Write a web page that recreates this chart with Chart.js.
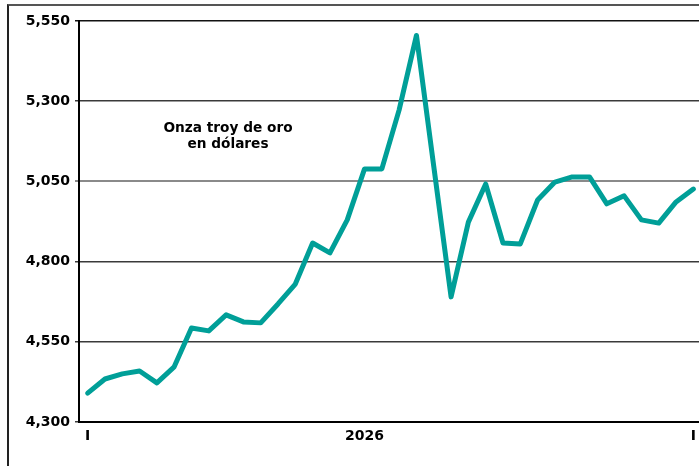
<!DOCTYPE html>
<html>
<head>
<meta charset="utf-8">
<script src="https://cdn.jsdelivr.net/npm/chart.js@4/dist/chart.umd.min.js"></script>
<style>
  html, body { margin: 0; padding: 0; background: #fff; overflow: hidden; }
  #wrap { position: relative; width: 699px; height: 466px; overflow: hidden; }
  #frame { position: absolute; left: 7px; top: 4px; right: 0; bottom: 0;
           border-top: 2px solid #555; border-left: 2px solid #222; }
  #box { position: absolute; left: 0; top: 0; width: 702px; height: 466px; }
</style>
</head>
<body>
<div id="wrap">
  <div id="frame"></div>
  <div id="box"><canvas id="chart"></canvas></div>
</div>
<script>
// ===== DATA =====
const labels = ['I', '', '', '', '', '', '', '', '', '', '', '', '', '', '', '',
  '2026', '', '', '', '', '', '', '', '', '', '', '', '', '', '', '', '', '', '', 'I'];
const goldPrice = [4390, 4434, 4450, 4459, 4422, 4472, 4593, 4584, 4634, 4612, 4609, 4668,
  4730, 4858, 4827, 4930, 5089, 5089, 5273, 5505, 5097, 4690, 4923, 5042,
  4858, 4855, 4992, 5048, 5064, 5064, 4980, 5005, 4930, 4920, 4986, 5026];
const yTicks = [4300, 4550, 4800, 5050, 5300, 5550];
const noteLines = ['Onza troy de oro', 'en dólares'];

const FONT = '"DejaVu Sans", sans-serif';

// grid colour per tick value
function gridColor(value) {
  if (value === 5550) return '#111';
  if (value === 5050) return '#8a8a8a';
  return '#3a3a3a';
}

// note text in the upper left of the plot
const notePlugin = {
  id: 'note',
  afterDraw(chart) {
    const ctx = chart.ctx;
    ctx.save();
    ctx.fillStyle = '#000';
    ctx.font = 'bold 13.7px ' + FONT;
    ctx.textAlign = 'center';
    ctx.textBaseline = 'alphabetic';
    ctx.fillText(noteLines[0], 228, 132);
    ctx.fillText(noteLines[1], 228, 148);
    ctx.restore();
  }
};

new Chart(document.getElementById('chart'), {
  type: 'line',
  data: {
    labels: labels,
    datasets: [{
      data: goldPrice,
      borderColor: '#009F98',
      borderWidth: 5,
      borderJoinStyle: 'round',
      borderCapStyle: 'round',
      pointRadius: 0,
      tension: 0,
      fill: false
    }]
  },
  options: {
    responsive: true,
    maintainAspectRatio: false,
    animation: false,
    layout: { padding: { top: 21, right: 0, bottom: 0, left: 0 } },
    plugins: {
      legend: { display: false },
      tooltip: { enabled: false }
    },
    scales: {
      x: {
        offset: true,
        grid: { display: false, drawTicks: false },
        border: { display: true, color: '#000', width: 2 },
        ticks: {
          autoSkip: false,
          maxRotation: 0,
          padding: 6,
          color: '#000',
          font: { family: FONT, weight: 'bold', size: 14 }
        },
        afterFit(scale) { scale.height = 44; }
      },
      y: {
        min: 4300,
        max: 5550,
        afterBuildTicks(scale) { scale.ticks = yTicks.map(v => ({ value: v })); },
        grid: {
          color: ctx => gridColor(ctx.tick ? ctx.tick.value : 0),
          lineWidth: ctx => (ctx.tick && ctx.tick.value === 5050) ? 2 : 1.5,
          tickLength: 4
        },
        border: { display: true, color: '#000', width: 2 },
        ticks: {
          padding: 5,
          color: '#000',
          font: { family: FONT, weight: 'bold', size: 14 },
          callback: v => v.toLocaleString('en-US')
        },
        afterFit(scale) { scale.width = 79; }
      }
    }
  },
  plugins: [notePlugin]
});
</script>
</body>
</html>
